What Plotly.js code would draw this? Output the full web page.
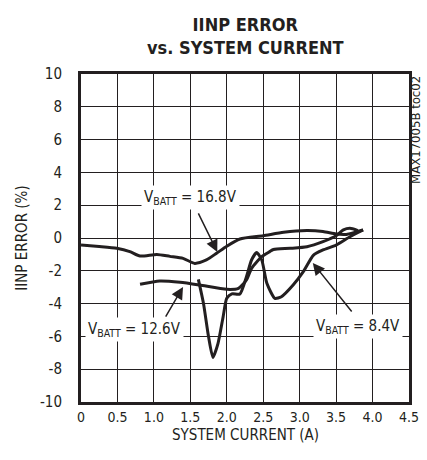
<!DOCTYPE html>
<html>
<head>
<meta charset="utf-8">
<script src="https://cdn.plot.ly/plotly-3.0.1.min.js"></script>
<style>html,body{margin:0;padding:0;background:#fff;}#chart{width:427px;height:460px;}
#chart text{font-stretch:condensed !important;}</style>
</head>
<body>
<div id="chart"></div>
<script>
// V_BATT = 16.8V
const x168 = [0.0, 0.25, 0.49, 0.67, 0.81, 1.04, 1.22, 1.4, 1.56, 1.72, 1.86, 2.0, 2.18, 2.5, 2.78, 3.1, 3.32, 3.5, 3.64, 3.76, 3.87];
const y168 = [-0.43, -0.52, -0.63, -0.83, -1.1, -1.0, -1.12, -1.24, -1.55, -1.34, -0.93, -0.5, -0.06, 0.14, 0.35, 0.45, 0.39, 0.24, 0.22, 0.35, 0.49];
// V_BATT = 12.6V
const x126 = [0.81, 1.08, 1.36, 1.63, 2.0, 2.16, 2.27, 2.34, 2.48, 2.59, 2.64, 2.87, 3.1, 3.32, 3.5, 3.6, 3.69, 3.8];
const y126 = [-2.82, -2.62, -2.7, -2.87, -3.13, -3.07, -2.56, -1.85, -1.14, -0.83, -0.7, -0.63, -0.53, -0.22, 0.14, 0.49, 0.59, 0.45];
// V_BATT = 8.4V
const x84 = [1.61, 1.68, 1.75, 1.81, 1.88, 1.95, 2.0, 2.07, 2.18, 2.27, 2.34, 2.41, 2.48, 2.55, 2.66, 2.75, 2.91, 3.05, 3.19, 3.32, 3.5, 3.69, 3.87];
const y84 = [-2.52, -3.98, -6.02, -7.28, -6.42, -4.8, -3.68, -3.41, -3.41, -2.36, -1.34, -0.89, -1.34, -2.76, -3.68, -3.58, -2.87, -2.05, -1.04, -0.73, -0.43, 0.08, 0.49];

const xTickVals = [0, 0.5, 1, 1.5, 2, 2.5, 3, 3.5, 4, 4.5];
const xTickText = ["0", "0.5", "1.0", "1.5", "2.0", "2.5", "3.0", "3.5", "4.0", "4.5"];
const yTickVals = [-10, -8, -6, -4, -2, 0, 2, 4, 6, 8, 10];
const yTickText = ["-10", "-8", "-6", "-4", "-2", "0", "2", "4", "6", "8", "10"];

const labels = [
  {text: "V<sub>BATT</sub> = 16.8V", x: 1.5, y: 2.47, ax: 1.60, ay: 1.59, hx: 1.87, hy: -0.85},
  {text: "V<sub>BATT</sub> = 12.6V", x: 0.73, y: -5.6, ax: 1.15, ay: -4.88, hx: 1.40, hy: -2.99},
  {text: "V<sub>BATT</sub> = 8.4V", x: 3.8, y: -5.37, ax: 3.73, ay: -4.57, hx: 3.18, hy: -1.52}
];

const FONT = '"DejaVu Sans Condensed", "DejaVu Sans", sans-serif';
const INK = '#231f20';
const lineStyle = {color: INK, width: 3, shape: 'spline', smoothing: 0.6};

const traces = [
  {x: x168, y: y168, mode: 'lines', line: lineStyle, name: '16.8V'},
  {x: x126, y: y126, mode: 'lines', line: lineStyle, name: '12.6V'},
  {x: x84, y: y84, mode: 'lines', line: lineStyle, name: '8.4V'}
];

const annotations = [];
labels.forEach(l => {
  annotations.push({x: l.x, y: l.y, xref: 'x', yref: 'y', text: l.text, showarrow: false,
    font: {family: FONT, size: 15, color: INK}, bgcolor: '#ffffff', borderpad: 2});
  annotations.push({x: l.hx, y: l.hy, ax: l.ax, ay: l.ay, xref: 'x', yref: 'y', axref: 'x', ayref: 'y',
    text: '', showarrow: true, arrowhead: 2, arrowsize: 1.6, arrowwidth: 1.5, arrowcolor: INK});
});
annotations.push({xref: 'paper', yref: 'paper', x: 1.018, xanchor: 'center', y: 1.0, yanchor: 'top', text: 'MAX17005B toc02', textangle: -90,
  showarrow: false, font: {family: FONT, size: 13, color: INK}});
annotations.push({xref: 'paper', yref: 'paper', x: 0.5, y: 1.19, yanchor: 'top', showarrow: false,
  text: '<b>IINP ERROR<br>vs. SYSTEM CURRENT</b>', font: {family: FONT, size: 18, color: INK}});
annotations.push({xref: 'paper', yref: 'paper', x: 0.5, y: -0.1, yanchor: 'middle', showarrow: false,
  text: 'SYSTEM CURRENT (A)', font: {family: FONT, size: 15, color: INK}});

const layout = {
  width: 427, height: 460,
  margin: {l: 81, r: 18, t: 74, b: 58},
  paper_bgcolor: '#fff', plot_bgcolor: '#fff',
  showlegend: false,
  xaxis: {range: [0, 4.5], tickvals: xTickVals, ticktext: xTickText, showgrid: true, gridcolor: INK, gridwidth: 1,
    zeroline: false, showline: true, linecolor: INK, linewidth: 3, mirror: true, ticks: '',
    tickfont: {family: FONT, size: 14, color: INK}, ticklabelstandoff: 0},
  yaxis: {range: [-10, 10], tickvals: yTickVals, ticktext: yTickText, showgrid: true, gridcolor: INK, gridwidth: 1,
    zeroline: false, showline: true, linecolor: INK, linewidth: 3, mirror: true, ticks: '',
    tickfont: {family: FONT, size: 15, color: INK}, ticklabelstandoff: 13,
    title: {text: 'IINP ERROR (%)', font: {family: FONT, size: 15, color: INK}, standoff: 9}},
  annotations: annotations
};

Plotly.newPlot('chart', traces, layout, {staticPlot: true, displayModeBar: false});
</script>
</body>
</html>
